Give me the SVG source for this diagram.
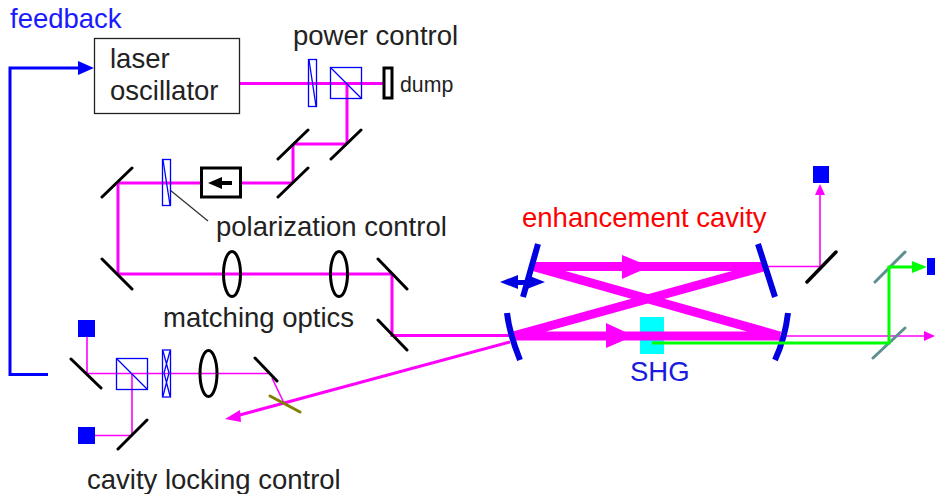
<svg xmlns="http://www.w3.org/2000/svg" width="935" height="494" viewBox="0 0 935 494">
<defs>
<style>
text{font-family:"Liberation Sans",Arial,sans-serif;font-size:27.500px;fill:#222}
.m{stroke:#000;stroke-width:3;fill:none;stroke-linecap:round}
.g{stroke:#5f9090;stroke-width:3;fill:none;stroke-linecap:round}
.b3{stroke:#ff00ff;stroke-width:3;fill:none}
.b2{stroke:#ff00ff;stroke-width:1.600;fill:none}
.c{stroke:#ff00ff;stroke-width:9;fill:none}
.op{stroke:#0000ff;stroke-width:1.300;fill:none}
.l{stroke:#000;stroke-width:3;fill:none}
.cm{stroke:#0000e0;stroke-width:6;fill:none;stroke-linecap:butt}
.pd{fill:#0000ff}
</style>
</defs>
<rect width="935" height="494" fill="#fff"/>
<g id="shg"><rect x="640" y="317" width="24" height="37" fill="#00ffff"/><text x="630" y="381" style="fill:#1a1ae0">SHG</text></g>
<g id="connectors">
<path class="b3" d="M240 83.500H383M347 83.500V144M347 144H293M293 144V183M293 183H118M118 183V274M118 274H392M392 274V335.500H515"/>
<path class="c" d="M533 266.500H765M765 266.500L513 336M533 266.500L780 336M513 336H780"/>
<path d="M622 255L650 266.500L622 279Z" fill="#ff00ff"/>
<path d="M606 323L634 336L606 348Z" fill="#ff00ff"/>
<path class="b2" d="M767 266.500H820V190"/>
<path d="M820 184L815 195H825Z" fill="#ff00ff"/>
<path class="b2" d="M780 336H925"/>
<path d="M935 336L924 331V341Z" fill="#ff00ff"/>
<path class="b2" d="M87 335V373.500H269M132 373.500V435.500H87M272 378L284 403"/>
<path class="b3" d="M510 342L236 416"/>
<path d="M225 419L240 410L241 422Z" fill="#ff00ff"/>
<path d="M48 374.500H10V68H82" stroke="#0000ff" stroke-width="3" fill="none"/>
<path d="M94 68L78 61V75Z" fill="#0000ff"/>
<path d="M170 190L208 221" stroke="#333" stroke-width="1.300" fill="none"/>
</g>
<g id="laser-oscillator"><rect x="94.500" y="38.500" width="145" height="75" fill="none" stroke="#222" stroke-width="1.300"/><text x="110" y="68">laser</text><text x="110" y="100">oscillator</text></g>
<g id="power-control"><text x="293" y="45">power control</text>
<rect class="op" x="308.500" y="59.500" width="8" height="47"/><path class="op" d="M309 60L316 106"/>
<rect class="op" x="330.500" y="67.500" width="31" height="31"/><path class="op" d="M331 68L361 98"/>
<rect x="384" y="68" width="8" height="30" fill="#fff" stroke="#000" stroke-width="3"/></g>
<g id="dump"><text x="400" y="92" style="font-size:21.300px">dump</text></g>
<g id="mirrors">
<path class="m" d="M331 159L361 130M278 159L308 130M278 197L308 168M102 197L132 168M102 259L132 289M378 259L407 289M378 320L407 350M71 359L101 388M118 449L147 420M255 358L277 381"/>
<path class="g" d="M875 282L905 252M873 358L905 328"/>
<path d="M807 282L836 252" stroke="#000" stroke-width="3.500" stroke-linecap="round"/>
<path d="M270 396L300 412" stroke="#808000" stroke-width="3" stroke-linecap="round"/>
</g>
<g id="isolator"><rect x="201.500" y="168" width="39" height="29" fill="#fff" stroke="#000" stroke-width="3"/><path d="M208 183L222 177V181H232V185H222V189Z" fill="#000"/></g>
<g id="polarization-control"><rect class="op" x="162.500" y="159.500" width="8" height="46"/><path class="op" d="M163 160L170 205"/><text x="216" y="236">polarization control</text></g>
<g id="matching-optics"><ellipse class="l" cx="232" cy="274" rx="8.500" ry="22.500"/><ellipse class="l" cx="339" cy="274" rx="8.500" ry="22.500"/><text x="163" y="327">matching optics</text></g>
<g id="cavity-locking-control">
<rect class="op" x="116.500" y="358.500" width="31" height="31"/><path class="op" d="M117 359L147 389"/>
<rect class="op" x="162.500" y="350" width="8" height="47"/><path class="op" d="M163 351L169 373L163 396M170 351L164 373L170 396"/>
<ellipse class="l" cx="208.500" cy="373.500" rx="8.500" ry="23"/>
<rect class="pd" x="78" y="320" width="17" height="17"/><rect class="pd" x="78" y="427" width="17" height="17"/>
<text x="87" y="489">cavity locking control</text></g>
<g id="enhancement-cavity"><text x="522" y="227" style="fill:#ff0000">enhancement cavity</text>
<path class="cm" d="M538 244L523 297M758 244L775 297M507 313C509 330 514 345 520 360M788 313C786 330 782 345 775 360"/>
<path d="M500 282L518 275V280H527V275L545 282L527 289V285H518V289Z" fill="#0000e0"/></g>
<g id="green-connector"><path d="M652 343H889V267H915" stroke="#00ff00" stroke-width="3" fill="none"/><path d="M927 267L912 261V273Z" fill="#00ff00"/></g>
<g id="detectors"><rect class="pd" x="813" y="166" width="16" height="17"/><rect class="pd" x="927" y="258" width="8" height="17"/></g>
<g id="feedback"><text x="10" y="28" style="fill:#1a1aff">feedback</text></g>
</svg>
